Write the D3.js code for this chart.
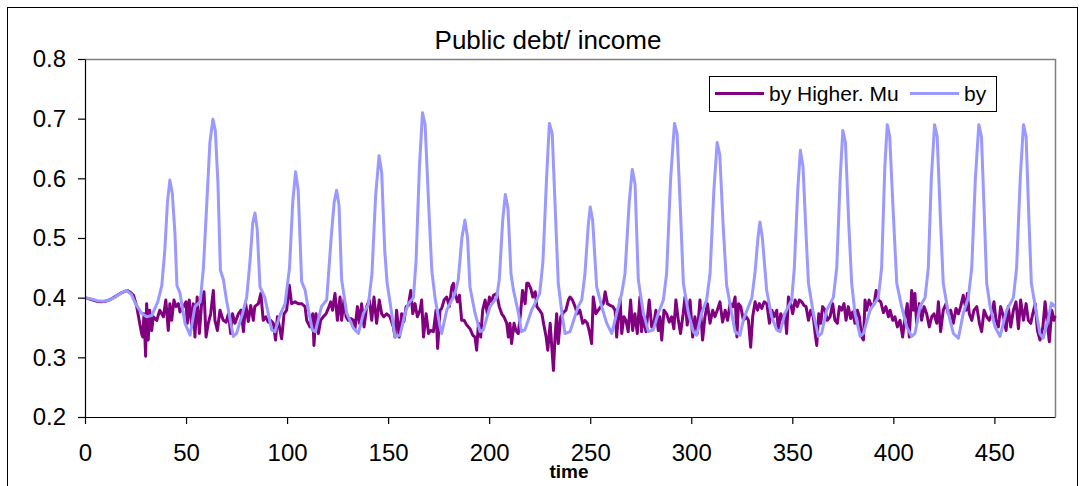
<!DOCTYPE html>
<html>
<head>
<meta charset="utf-8">
<script src="https://cdn.jsdelivr.net/npm/d3@7"></script>
<style>
  body { margin: 0; background: #fff; }
  svg { font-family: "Liberation Sans", Arial, sans-serif; }
</style>
</head>
<body>
<svg id="chart" width="1082" height="486"></svg>
<script>
// x ticks and y ticks
const xTicks = [0, 50, 100, 150, 200, 250, 300, 350, 400, 450];
const yTicks = [0.2, 0.3, 0.4, 0.5, 0.6, 0.7, 0.8];
const seriesNames = ["by Higher. Mu", "by"];

// "by Higher. Mu" (purple)
const muT = [0,2,4,6,8,10,12,14,16,18,20,21,22,23,24,25.6,26.8,28,28.6,29.2,30,30.5,31.3,32,33,33.8,35.5,37,38.8,40,41.2,42,42.9,44,45,46.2,47,48.7,50,50.6,51.6,52.8,53.6,54.4,55.5,56.6,57.7,58.9,59.9,61,62.2,63.5,64.3,65.5,66.8,68.4,69.8,71,72.1,73,74.2,75.9,77.2,78.4,79.5,80.8,82,83.3,84,85.8,87,88.2,89.5,90.7,91.8,93.2,94.3,95.2,96.2,97.3,98.5,99.8,101.1,102.2,103.9,105.5,107.2,108.9,109.7,111.3,112.7,113.3,114.3,115.5,116.6,117.9,119.3,120.4,121.6,122.5,123.7,124.9,126.2,127,128.2,129.2,130.3,131.5,132.8,133.6,134.8,135.8,136.9,138.1,139.4,140.7,141.9,143,144.3,145.6,146.8,147.9,149.3,150.9,152.6,153.4,154.2,155.5,156.7,157.8,158.9,160,161.2,162.2,163.3,164.5,165.8,166.6,167.5,168.8,170,171.1,172.4,173.7,174.5,175.7,176.5,177.7,179,180.3,181.5,182.3,183.1,184.3,185.3,186.4,187.6,188.9,190.5,191.9,193,193.8,194.7,195.8,196.8,198,199.1,200.1,201.2,202.1,203.7,205,206.2,207.3,208.7,209.5,210.3,211.1,212.3,213.2,214.4,215.5,216.5,217.8,218.6,219.4,220.6,221.6,222.8,223.6,224.9,226.1,226.9,228.2,229,230.2,231,231.8,232.6,233.4,234.2,235.4,236.7,238,239.2,240,241.2,242.5,243.6,244.9,246.3,247.4,248.6,249.8,250.7,251.5,252.8,254,255.2,256.5,257.4,258.5,259.9,261.2,262.3,263.1,264,264.8,265.6,266.7,267.7,268.8,270,271,272.1,273.3,274.6,275.4,276.3,277.6,279.2,280.4,281.5,282.5,283.7,284.5,285.4,286.5,287.8,289.1,290.3,291.4,292.4,293.6,294.7,296,296.9,298,299.4,300.7,301.8,303,304.3,305.6,306.8,308,309.3,310.6,311.7,312.9,314.2,315.5,316.8,318,319.2,320.6,321.7,322.6,323.4,324.5,325.8,327.2,328.3,329.4,330.4,331.6,332.8,333.7,334.9,336.1,337.4,338.7,339.9,341,342.3,343.1,344.3,345.3,346.4,347.2,348.1,349.2,350.2,351.4,352.5,353.5,354.7,355.8,356.8,358,359.1,360.4,361.3,362.1,363.1,364.1,365,366.2,367.3,368.7,370,371.1,372.3,373.3,374.4,375.6,376.6,377.7,378.9,379.9,381,382.2,383.2,384.3,385.2,386,386.8,388,389.3,390.5,391.5,392.6,393.8,395.1,396.3,397.6,398.4,399.7,400.8,402,403.3,404.6,405.8,406.9,407.9,409.1,409.9,410.7,411.5,412.9,414,415.2,416.5,417.8,419,420.1,421.5,422.3,423.4,424.7,426.1,427.2,428.4,429.7,431,432.2,433.3,434.6,436,436.6,437.6,438.8,439.9,441.3,442.6,443.7,444.9,446.2,447.5,448.7,449.8,450.8,452,453.1,454.5,455.8,456.9,458.1,459.4,460.7,461.9,463,464.4,465.7,466.8,468,469,470.2,471.3,472.6,474,475.1,476.2,477.2,478.4,479.5,480];
const muV = [0.400,0.398,0.396,0.394,0.393,0.394,0.396,0.400,0.404,0.408,0.411,0.412,0.410,0.407,0.404,0.385,0.362,0.340,0.334,0.373,0.302,0.390,0.329,0.379,0.345,0.368,0.362,0.379,0.368,0.396,0.345,0.390,0.362,0.396,0.385,0.390,0.376,0.385,0.393,0.357,0.396,0.351,0.390,0.334,0.401,0.340,0.390,0.410,0.334,0.357,0.373,0.412,0.362,0.345,0.379,0.362,0.359,0.373,0.340,0.373,0.357,0.373,0.379,0.343,0.390,0.360,0.387,0.362,0.385,0.390,0.407,0.362,0.368,0.359,0.362,0.357,0.329,0.368,0.351,0.331,0.373,0.379,0.421,0.390,0.393,0.390,0.390,0.385,0.362,0.351,0.373,0.320,0.373,0.340,0.362,0.368,0.373,0.382,0.393,0.379,0.407,0.362,0.401,0.362,0.398,0.368,0.362,0.365,0.362,0.348,0.385,0.357,0.390,0.351,0.385,0.396,0.362,0.401,0.357,0.396,0.373,0.368,0.373,0.368,0.351,0.334,0.379,0.334,0.373,0.360,0.385,0.387,0.412,0.373,0.390,0.368,0.379,0.396,0.334,0.373,0.340,0.345,0.343,0.379,0.315,0.379,0.382,0.396,0.401,0.385,0.418,0.424,0.407,0.393,0.404,0.362,0.362,0.354,0.348,0.337,0.334,0.312,0.357,0.334,0.379,0.396,0.373,0.401,0.393,0.404,0.407,0.385,0.373,0.368,0.357,0.334,0.357,0.323,0.357,0.345,0.340,0.373,0.412,0.390,0.424,0.424,0.415,0.401,0.410,0.385,0.379,0.373,0.357,0.334,0.312,0.357,0.317,0.278,0.334,0.373,0.323,0.368,0.375,0.379,0.396,0.401,0.396,0.385,0.373,0.379,0.357,0.362,0.357,0.340,0.323,0.401,0.373,0.379,0.385,0.390,0.410,0.390,0.387,0.385,0.379,0.334,0.373,0.398,0.340,0.368,0.362,0.343,0.396,0.345,0.373,0.340,0.401,0.343,0.368,0.343,0.396,0.351,0.357,0.379,0.345,0.368,0.329,0.379,0.373,0.359,0.368,0.348,0.396,0.362,0.340,0.373,0.401,0.354,0.396,0.334,0.368,0.340,0.396,0.329,0.368,0.390,0.357,0.379,0.368,0.379,0.393,0.359,0.379,0.362,0.390,0.385,0.401,0.334,0.390,0.385,0.362,0.368,0.362,0.317,0.368,0.393,0.379,0.390,0.382,0.393,0.390,0.357,0.379,0.368,0.379,0.345,0.373,0.362,0.373,0.340,0.401,0.390,0.373,0.396,0.385,0.396,0.393,0.387,0.385,0.362,0.379,0.368,0.340,0.320,0.373,0.357,0.385,0.379,0.362,0.368,0.390,0.362,0.357,0.385,0.379,0.390,0.362,0.385,0.365,0.376,0.357,0.379,0.368,0.334,0.329,0.396,0.379,0.396,0.385,0.390,0.412,0.396,0.393,0.375,0.385,0.368,0.379,0.362,0.368,0.351,0.362,0.334,0.368,0.390,0.334,0.412,0.379,0.407,0.357,0.390,0.362,0.385,0.373,0.351,0.368,0.373,0.357,0.393,0.343,0.379,0.390,0.373,0.379,0.357,0.382,0.373,0.385,0.404,0.379,0.407,0.373,0.362,0.379,0.385,0.357,0.343,0.379,0.368,0.362,0.373,0.393,0.362,0.351,0.385,0.368,0.345,0.385,0.351,0.379,0.393,0.348,0.396,0.362,0.390,0.362,0.357,0.373,0.390,0.345,0.329,0.351,0.393,0.357,0.326,0.379,0.362,0.370];

// "by" (light blue)
const byT = [0,3,6,9,12,15,18,20.6,23,25,28,30.5,33,36,38,39.5,40.8,42,43.2,44.5,45.5,47,49.5,52,54.4,57,58.6,60.3,61.8,63.3,64.5,65.8,67,68.5,70,73.4,75,78,80,81.7,83,84.1,85.2,86.6,89,92.4,94,96.5,99,101.2,102.8,104.2,105.5,107.2,108.9,110.5,112.5,114,117,119.6,121.8,123.3,124.5,125.7,127,129.5,132.8,135.3,137.8,140.2,142,143.8,145.5,146.8,148.3,149.5,151,153.4,155.9,158.4,160,162.5,163.8,165.5,167,168.3,170,171.6,173.2,175.7,176.5,179,183.1,184.7,186.5,188,189.3,190.5,193,195.5,197.1,200.4,203.7,205,206.7,208,209.3,210.8,212,214.5,216,217.7,221,223.5,225,226.6,228.4,229.8,231.2,232.8,234.2,236,237.5,240,244,245.8,247.4,249,250,251.2,253.2,255.7,258.2,260.7,263.1,265.6,267.2,269.3,270.8,272.2,273.8,276.3,278.8,281.2,283.7,286.2,287.8,289.8,291.7,293,294.6,296.1,298.6,301,302.7,305.1,307.6,309.3,311.2,312.8,314.1,315.8,317.5,320,321.7,324.1,325.8,328.3,330,331.5,333,334,335.2,337.3,339.8,342.3,344,346.4,349.7,351,352.7,354,355.3,356.9,358,360.4,362.9,364.5,367,370.3,372,373.7,375,376.3,378,379.4,381,383.6,385.2,388.5,392.6,394.2,395.8,397,398.2,400,401.7,404.1,406.6,409.1,410.7,413.2,415.7,417.3,418.8,420.4,421.7,423.2,424.7,427.2,429.7,432.2,434.6,437.1,438.8,440.6,442.3,443.6,445,446.2,447.9,450.3,452.8,456.1,459.4,461,462.8,464.4,465.7,467,468.3,470.8,472.5,474.1,476.6,478.2,480];
const byV = [0.400,0.398,0.395,0.394,0.396,0.401,0.408,0.412,0.405,0.390,0.374,0.368,0.370,0.393,0.420,0.480,0.560,0.597,0.575,0.508,0.420,0.408,0.357,0.337,0.385,0.393,0.450,0.560,0.660,0.699,0.680,0.590,0.446,0.430,0.396,0.335,0.340,0.374,0.400,0.463,0.525,0.542,0.515,0.418,0.400,0.346,0.343,0.371,0.390,0.450,0.560,0.611,0.580,0.427,0.413,0.380,0.346,0.343,0.385,0.396,0.500,0.560,0.580,0.555,0.430,0.374,0.349,0.340,0.374,0.388,0.440,0.570,0.638,0.610,0.480,0.424,0.391,0.335,0.337,0.374,0.390,0.400,0.460,0.620,0.710,0.690,0.560,0.446,0.400,0.351,0.340,0.379,0.407,0.430,0.500,0.530,0.500,0.418,0.374,0.343,0.346,0.385,0.400,0.430,0.530,0.573,0.550,0.440,0.413,0.374,0.343,0.346,0.379,0.396,0.407,0.460,0.600,0.692,0.675,0.540,0.424,0.374,0.340,0.343,0.385,0.396,0.440,0.520,0.552,0.530,0.418,0.385,0.357,0.340,0.374,0.407,0.440,0.560,0.615,0.590,0.430,0.374,0.343,0.346,0.374,0.396,0.440,0.600,0.692,0.675,0.550,0.424,0.374,0.343,0.337,0.374,0.396,0.440,0.580,0.660,0.640,0.520,0.421,0.374,0.343,0.337,0.363,0.385,0.400,0.440,0.500,0.527,0.500,0.413,0.368,0.346,0.343,0.374,0.396,0.450,0.580,0.647,0.620,0.500,0.424,0.374,0.335,0.340,0.379,0.400,0.450,0.600,0.680,0.660,0.520,0.424,0.374,0.335,0.340,0.379,0.400,0.450,0.620,0.690,0.670,0.540,0.424,0.385,0.351,0.335,0.340,0.385,0.400,0.450,0.600,0.690,0.670,0.540,0.424,0.374,0.340,0.332,0.374,0.400,0.450,0.600,0.690,0.670,0.540,0.424,0.385,0.351,0.335,0.379,0.400,0.450,0.600,0.690,0.670,0.540,0.424,0.374,0.340,0.332,0.363,0.391,0.385];

const W = 1082, H = 486;
const margin = { left: 85, right: 1055, top: 59, bottom: 417 };

const svg = d3.select("#chart");

// outer chart border
svg.append("rect")
  .attr("x", 7.5).attr("y", 7.5)
  .attr("width", 1070).attr("height", 500)
  .attr("fill", "#fff").attr("stroke", "#000").attr("stroke-width", 1);

const x = d3.scaleLinear().domain([0, 480]).range([margin.left, margin.right]);
const y = d3.scaleLinear().domain([0.2, 0.8]).range([margin.bottom, margin.top]);

// plot area border (grey top and right)
svg.append("path")
  .attr("d", `M${margin.left},${margin.top + 0.5}H${margin.right + 0.5}V${margin.bottom}`)
  .attr("fill", "none").attr("stroke", "#808080").attr("stroke-width", 1.5);

// series
const line = d3.line().x(d => x(d[0])).y(d => y(d[1]));
const muData = d3.zip(muT, muV);
const byData = d3.zip(byT, byV);

svg.append("path")
  .datum(muData)
  .attr("d", line)
  .attr("fill", "none")
  .attr("stroke", "#800080")
  .attr("stroke-width", 3)
  .attr("stroke-linejoin", "round");

svg.append("path")
  .datum(byData)
  .attr("d", line)
  .attr("fill", "none")
  .attr("stroke", "#9999ff")
  .attr("stroke-width", 3)
  .attr("stroke-linejoin", "round");

// axes
const yAxis = svg.append("g")
  .attr("transform", `translate(${margin.left},0)`)
  .call(d3.axisLeft(y).tickValues(yTicks).tickFormat(d3.format(".1f")).tickSize(7).tickSizeOuter(0).tickPadding(12));
const xAxis = svg.append("g")
  .attr("transform", `translate(0,${margin.bottom})`)
  .call(d3.axisBottom(x).tickValues(xTicks).tickSize(7).tickSizeOuter(0).tickPadding(20));

svg.selectAll(".tick text")
  .attr("font-family", "'Liberation Sans', Arial, sans-serif")
  .attr("font-size", 24)
  .attr("fill", "#000");
svg.selectAll(".domain, .tick line").attr("stroke", "#000").attr("stroke-width", 1.2);

// title
svg.append("text")
  .attr("x", 548).attr("y", 49)
  .attr("text-anchor", "middle")
  .attr("font-size", 26)
  .text("Public debt/ income");

// x axis title (sits just under the "250" label)
svg.append("text")
  .attr("x", 569).attr("y", 478)
  .attr("text-anchor", "middle")
  .attr("font-size", 19)
  .attr("font-weight", "bold")
  .text("time");

// legend
const lg = svg.append("g");
lg.append("rect")
  .attr("x", 709.5).attr("y", 76.5)
  .attr("width", 287).attr("height", 35)
  .attr("fill", "#fff").attr("stroke", "#000").attr("stroke-width", 1);
const legendItems = [
  { name: seriesNames[0], color: "#800080", x0: 715 },
  { name: seriesNames[1], color: "#9999ff", x0: 910 }
];
legendItems.forEach(it => {
  lg.append("line")
    .attr("x1", it.x0).attr("x2", it.x0 + 49)
    .attr("y1", 93.5).attr("y2", 93.5)
    .attr("stroke", it.color).attr("stroke-width", 3);
  lg.append("text")
    .attr("x", it.x0 + 54).attr("y", 101)
    .attr("font-size", 21)
    .text(it.name);
});
</script>
</body>
</html>
